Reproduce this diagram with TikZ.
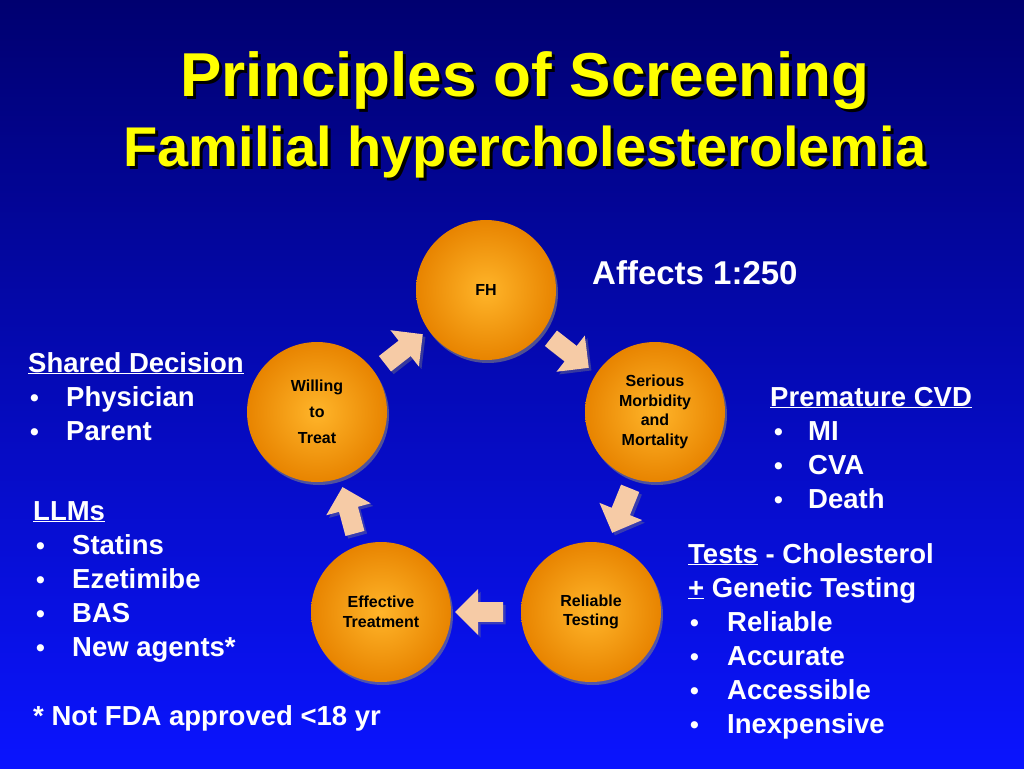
\documentclass[tikz,border=0pt]{standalone}
\usepackage{fontspec}
\setmainfont{Liberation Sans}
\usetikzlibrary{shapes.arrows,shadows}
\definecolor{bgtop}{HTML}{000070}
\definecolor{bgbot}{HTML}{0A14FF}
\definecolor{ttl}{HTML}{FFFF00}
\definecolor{peach}{HTML}{F6CBA6}
\definecolor{orin}{HTML}{FFB52A}
\definecolor{orout}{HTML}{E88400}
\tikzset{
  ball/.style={circle,minimum size=140pt,inner sep=0pt,inner color=orin,outer color=orout,
    drop shadow={shadow xshift=2pt,shadow yshift=-3pt,opacity=0.6},
    font=\bfseries\fontsize{16}{19.5}\selectfont,align=center,text=black},
  arr/.style={single arrow,fill=peach,minimum height=48pt,minimum width=46pt,
    single arrow head extend=7pt,inner sep=5pt,drop shadow={opacity=0.4}},
  txt/.style={anchor=west,text=white,font=\bfseries\fontsize{27.5}{30}\selectfont,inner sep=0pt,
    text height=20pt,text depth=6pt},
  bul/.style={anchor=west,text=white,font=\bfseries\fontsize{25}{25}\selectfont,inner sep=0pt,
    text height=20pt,text depth=6pt},
  ttlsty/.style={text=ttl,font=\bfseries\fontsize{#1}{#1}\selectfont,inner sep=0pt},
}
\begin{document}
\begin{tikzpicture}[x=1pt,y=-1pt]
\shade[top color=bgtop,bottom color=bgbot] (0,0) rectangle (1024,768);
\useasboundingbox (0,0) rectangle (1024,768);
% title
\node[ttlsty=62,text=black] (t1s) at (528,84) {Principles of Screening};
\node[ttlsty=62] (t1) at (525,81) {Principles of Screening};
\node[ttlsty=56,text=black] (t2s) at (528,155) {Familial hypercholesterolemia};
\node[ttlsty=56] (t2) at (525,152) {Familial hypercholesterolemia};
% circles
\node[ball] (fh) at (486,290) {FH};
\node[ball] (sm) at (655,412) {Serious\\Morbidity\\and\\Mortality};
\node[ball] (rt) at (591,612) {Reliable\\Testing};
\node[ball] (et) at (381,612) {Effective\\Treatment};
\node[ball,font=\bfseries\fontsize{16}{26}\selectfont] (wt) at (317,412) {Willing\\to\\Treat};
% arrows
\node[arr,rotate=-38] (a1) at (566,350) {};
\node[arr,rotate=-112] (a2) at (623,506) {};
\node[arr,rotate=180] (a3) at (484,612) {};
\node[arr,rotate=105] (a4) at (350,515) {};
\node[arr,rotate=38] (a5) at (400,352) {};
% texts
\node[txt,font=\bfseries\fontsize{33}{36}\selectfont] (aff) at (592,277) {Affects 1:250};
\node[txt] (sd) at (28,365) {\underline{Shared Decision}};
\node[bul] (b1) at (30,399) {•}; \node[txt] (s1) at (66,399) {Physician};
\node[bul] (b2) at (30,433) {•}; \node[txt] (s2) at (66,433) {Parent};
\node[txt] (pc) at (770,399) {\underline{Premature CVD}};
\node[bul] (pb1) at (774,433) {•}; \node[txt] (p1) at (808,433) {MI};
\node[bul] (pb2) at (774,467) {•}; \node[txt] (p2) at (808,467) {CVA};
\node[bul] (pb3) at (774,501) {•}; \node[txt] (p3) at (808,501) {Death};
\node[txt] (ll) at (33,513) {\underline{LLMs}};
\node[bul] (lb1) at (36,547) {•}; \node[txt] (l1) at (72,547) {Statins};
\node[bul] (lb2) at (36,581) {•}; \node[txt] (l2) at (72,581) {Ezetimibe};
\node[bul] (lb3) at (36,615) {•}; \node[txt] (l3) at (72,615) {BAS};
\node[bul] (lb4) at (36,649) {•}; \node[txt] (l4) at (72,649) {New agents*};
\node[txt] (nf) at (33,718) {* Not FDA approved <18 yr};
\node[txt] (ts) at (688,556) {\underline{Tests} - Cholesterol};
\node[txt] (gt) at (688,590) {\underline{+} Genetic Testing};
\node[bul] (qb1) at (690,624) {•}; \node[txt] (q1) at (727,624) {Reliable};
\node[bul] (qb2) at (690,658) {•}; \node[txt] (q2) at (727,658) {Accurate};
\node[bul] (qb3) at (690,692) {•}; \node[txt] (q3) at (727,692) {Accessible};
\node[bul] (qb4) at (690,726) {•}; \node[txt] (q4) at (727,726) {Inexpensive};
\end{tikzpicture}
\end{document}
